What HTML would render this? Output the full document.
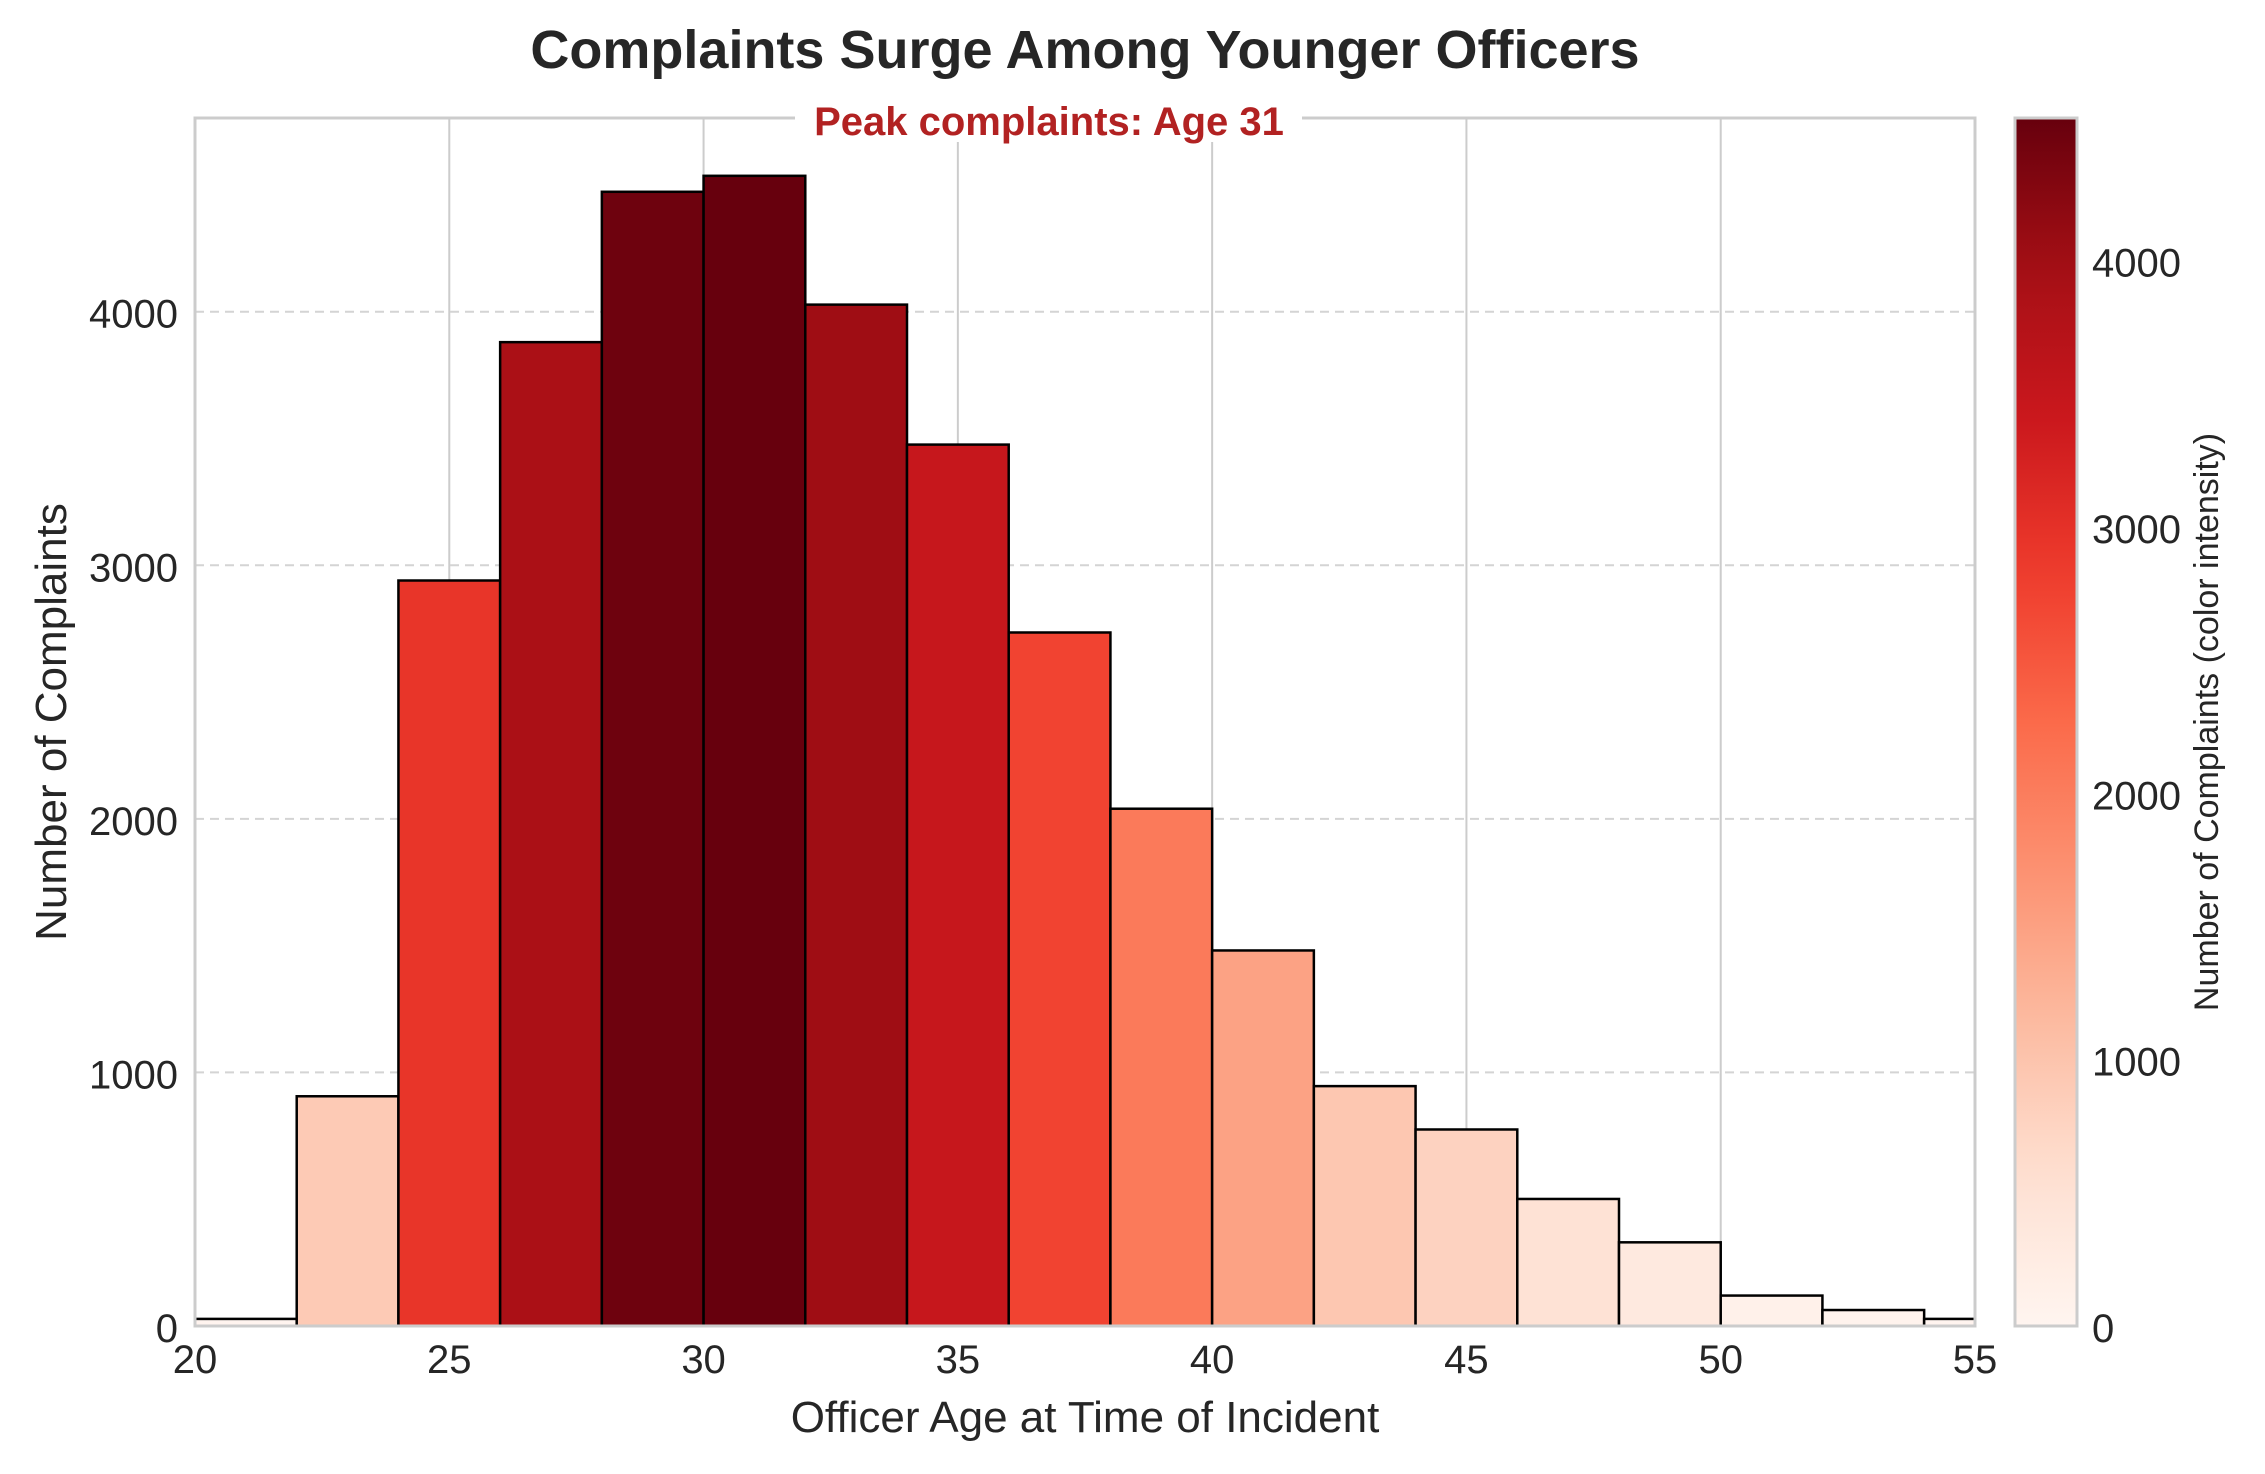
<!DOCTYPE html>
<html><head><meta charset="utf-8"><style>
html,body{margin:0;padding:0;background:#fff;}
svg text{font-family:"Liberation Sans",Arial,sans-serif;}
</style></head><body>
<svg id="chart" width="2265" height="1469" xmlns="http://www.w3.org/2000/svg">
<rect width="2265" height="1469" fill="#fff"/>
<text x="1085" y="68" text-anchor="middle" font-size="54" font-weight="bold" fill="#262626">Complaints Surge Among Younger Officers</text>
<g id="grid"></g>
<g id="bars"></g>
<rect x="195" y="118" width="1780" height="1208" fill="none" stroke="#cccccc" stroke-width="3"/>
<g id="xticks"></g><g id="yticks"></g>
<rect x="795" y="100" width="507" height="42" fill="#fff"/>
<text x="1049" y="135" text-anchor="middle" font-size="40" font-weight="bold" fill="#b22222">Peak complaints: Age 31</text>
<text x="1085" y="1432" text-anchor="middle" font-size="44" fill="#262626">Officer Age at Time of Incident</text>
<text transform="translate(66,722) rotate(-90)" text-anchor="middle" font-size="44" fill="#262626">Number of Complaints</text>
<defs><linearGradient id="cbgrad" x1="0" y1="1" x2="0" y2="0"></linearGradient></defs>
<g id="colorbar"></g>
<text transform="translate(2218,722) rotate(-90)" text-anchor="middle" font-size="34" fill="#262626">Number of Complaints (color intensity)</text>
</svg>
<script>
const binStarts=[20,22,24,26,28,30,32,34,36,38,40,42,44,46,48,50,52,54];
const counts=[28,906,2940,3880,4473,4536,4028,3476,2735,2040,1481,946,775,501,330,120,63,28];
const xTicks=[20,25,30,35,40,45,50,55];
const yTicks=[0,1000,2000,3000,4000];
const binWidth=2;
const NS="http://www.w3.org/2000/svg";
const L=195,R=1975,T=118,B=1326,xMin=20,xMax=55,yMax=4764;
const xs=v=>L+(v-xMin)/(xMax-xMin)*(R-L);
const ys=v=>B-v/yMax*(B-T);
const stops=["#fff5f0","#fee0d2","#fcbba1","#fc9272","#fb6a4a","#ef3b2c","#cb181d","#a50f15","#67000d"];
function hex(h){return [1,3,5].map(i=>parseInt(h.substr(i,2),16));}
function reds(t){t=Math.max(0,Math.min(1,t));const p=t*8,i=Math.min(7,Math.floor(p)),f=p-i;const a=hex(stops[i]),b=hex(stops[i+1]);return "rgb("+a.map((c,k)=>Math.round(c+(b[k]-c)*f)).join(",")+")";}
function mk(tag,attrs,parent){const e=document.createElementNS(NS,tag);for(const k in attrs)e.setAttribute(k,attrs[k]);parent.appendChild(e);return e;}
const grid=document.getElementById('grid'),bars=document.getElementById('bars'),xt=document.getElementById('xticks'),yt=document.getElementById('yticks');
xTicks.forEach(v=>{
 const l=mk('line',{x1:xs(v),x2:xs(v),y1:T,y2:B,stroke:'#cccccc','stroke-width':2},grid);
 
 
 const t=mk('text',{x:xs(v),y:B+47,'text-anchor':'middle','font-size':40,fill:'#262626'},xt);
 t.textContent=v;
 
 
});
yTicks.forEach(v=>{
 if(v>0){const l=mk('line',{x1:L,x2:R,y1:ys(v),y2:ys(v),stroke:'#d4d4d4','stroke-width':2,'stroke-dasharray':'9,6'},grid);
 
 }
 const t=mk('text',{x:L-17,y:ys(v)+16,'text-anchor':'end','font-size':40,fill:'#262626'},yt);
 t.textContent=v;
 
 
});
const maxC=Math.max(...counts);
const clip=mk('clipPath',{id:'pc'},document.querySelector('defs'));
mk('rect',{x:L,y:T,width:R-L,height:B-T},clip);
bars.setAttribute('clip-path','url(#pc)');
binStarts.forEach((s,i)=>{
 const r=mk('rect',{x:xs(s),y:ys(counts[i]),width:xs(s+binWidth)-xs(s),height:B-ys(counts[i]),fill:reds(counts[i]/maxC),stroke:'#000','stroke-width':2.5},bars);
 
 
});
const g=document.getElementById('cbgrad');
for(let i=0;i<=20;i++){mk('stop',{offset:(i/20),'stop-color':reds(i/20)},g);}
const cb=document.getElementById('colorbar');
const cx=2015,cw=62,cyMin=T;
const cbr=mk('rect',{x:cx,y:cyMin,width:cw,height:B-cyMin,fill:'url(#cbgrad)',stroke:'#cccccc','stroke-width':3},cb);


yTicks.forEach(v=>{
 const y=B-(v/maxC)*(B-cyMin);
 const t=mk('text',{x:cx+cw+15,y:y+16,'font-size':40,fill:'#262626'},cb);
 t.textContent=v;
 
 
});
</script>
</body></html>
